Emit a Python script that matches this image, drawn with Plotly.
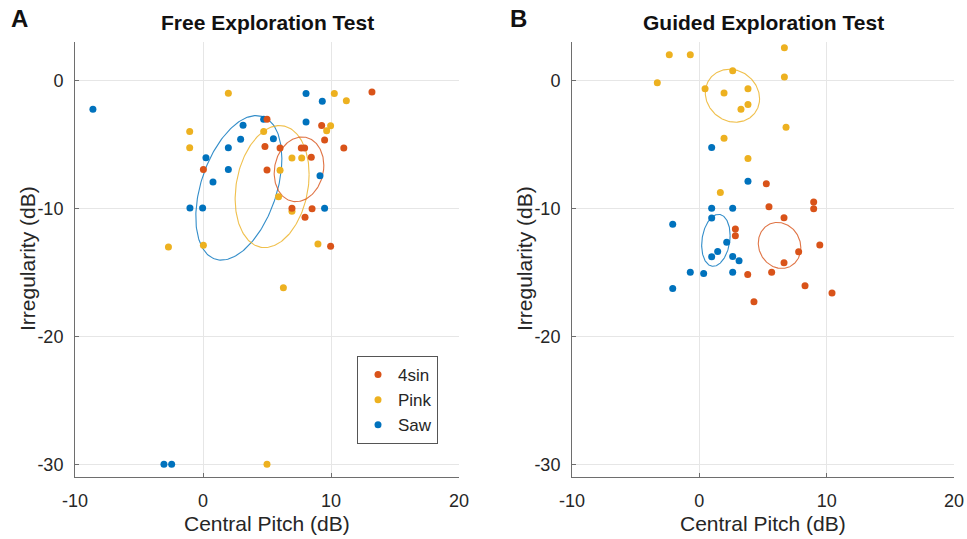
import numpy as np
import plotly.graph_objects as go

# ---- data -----------------------------------------------------------------
series_names = ["4sin", "Pink", "Saw"]
series_colors = {"4sin": "#D95319", "Pink": "#EDB120", "Saw": "#0072BD"}

# Free exploration test (panel A)
free_4sin_x = [0.03, 5.0, 4.84, 5.0, 13.2, 9.27, 9.5, 11.0, 6.02, 7.68, 7.94, 8.46, 6.95, 7.97, 8.52, 9.97]
free_4sin_y = [-6.97, -3.03, -5.16, -7.0, -0.91, -3.52, -4.66, -5.29, -5.29, -5.29, -5.29, -6.0, -10.0, -10.7, -10.03, -12.97]
free_pink_x = [1.98, -1.04, -1.04, 4.74, -2.7, 0.03, 10.26, 11.2, 9.97, 9.66, 6.95, 7.71, 6.02, 5.9, 6.95, 8.98, 6.28, 5.0]
free_pink_y = [-1.0, -4.0, -5.26, -4.0, -13.03, -12.88, -1.02, -1.59, -3.54, -3.93, -6.07, -6.07, -7.03, -9.1, -10.23, -12.79, -16.2, -30.0]
free_saw_x = [-8.6, 0.23, 0.78, 1.98, 1.98, 3.13, 2.94, 4.74, -1.02, -0.03, 8.05, 9.32, 8.05, 5.5, 9.14, 9.5, -3.05, -2.45]
free_saw_y = [-2.25, -6.04, -7.95, -5.26, -6.97, -3.5, -4.6, -3.03, -9.97, -9.97, -1.02, -1.64, -3.26, -4.56, -7.45, -10.0, -30.0, -30.0]

# Guided exploration test (panel B)
guided_4sin_x = [5.26, 5.47, 8.98, 8.98, 6.65, 2.83, 2.83, 7.8, 9.46, 6.65, 5.68, 3.8, 8.3, 10.42, 4.29]
guided_4sin_y = [-8.07, -9.87, -9.5, -10.03, -10.73, -11.62, -12.14, -13.4, -12.87, -14.26, -15.0, -15.17, -16.06, -16.61, -17.31]
guided_pink_x = [-2.36, -0.71, 6.68, 2.62, 6.68, -3.3, 0.45, 1.94, 3.82, 3.82, 3.27, 6.81, 1.94, 3.82, 1.65]
guided_pink_y = [2.0, 2.0, 2.56, 0.76, 0.26, -0.18, -0.65, -0.99, -0.65, -1.88, -2.25, -3.66, -4.52, -6.11, -8.77]
guided_saw_x = [0.97, 3.82, 0.97, 2.62, -2.09, 0.97, 2.15, 1.44, 0.97, 2.62, 3.12, 2.62, 0.34, -0.71, -2.09]
guided_saw_y = [-5.25, -7.88, -10.0, -10.0, -11.25, -10.76, -12.66, -13.37, -13.79, -13.76, -14.1, -14.99, -15.09, -14.99, -16.27]

# Ellipse summaries: centre and shape matrix [[a, b], [b, c]]
free_ellipse_center = {"4sin": (7.5, -6.95), "Pink": (5.4, -8.3), "Saw": (2.8, -8.4)}
free_ellipse_shape = {"4sin": (3.76, 0.6, 6.4), "Pink": (8.35, 2.76, 22.75), "Saw": (11.3, 7.7, 31.9)}
guided_ellipse_center = {"4sin": (6.3, -12.9), "Pink": (2.6, -1.2), "Saw": (1.3, -12.5)}
guided_ellipse_shape = {"4sin": (2.79, -0.3, 3.24), "Pink": (4.54, -0.5, 4.28), "Saw": (1.25, 0.43, 4.12)}

x_ticks = [-10, 0, 10, 20]
y_ticks = [-30, -20, -10, 0]
x_ticklabels = ["-10", "0", "10", "20"]
y_ticklabels = ["-30", "-20", "-10", "0"]
x_range = [-10, 20]
y_range = [-31, 3]

panels = [
    {
        "xaxis": "x", "yaxis": "y",
        "points": {
            "4sin": (free_4sin_x, free_4sin_y),
            "Pink": (free_pink_x, free_pink_y),
            "Saw": (free_saw_x, free_saw_y),
        },
        "centers": free_ellipse_center, "shapes": free_ellipse_shape,
        "legend": True,
    },
    {
        "xaxis": "x2", "yaxis": "y2",
        "points": {
            "4sin": (guided_4sin_x, guided_4sin_y),
            "Pink": (guided_pink_x, guided_pink_y),
            "Saw": (guided_saw_x, guided_saw_y),
        },
        "centers": guided_ellipse_center, "shapes": guided_ellipse_shape,
        "legend": False,
    },
]


def ellipse_xy(center, shape, n=200):
    a, b, c = shape
    L = np.linalg.cholesky(np.array([[a, b], [b, c]]))
    t = np.linspace(0, 2 * np.pi, n)
    pts = L @ np.vstack([np.cos(t), np.sin(t)])
    return pts[0] + center[0], pts[1] + center[1]


fig = go.Figure()
rank = {"4sin": 1, "Pink": 2, "Saw": 3}
for panel in panels:
    for name in ["Saw", "Pink", "4sin"]:
        ex, ey = ellipse_xy(panel["centers"][name], panel["shapes"][name])
        fig.add_trace(go.Scatter(
            x=ex, y=ey, mode="lines", xaxis=panel["xaxis"], yaxis=panel["yaxis"],
            line=dict(color=series_colors[name], width=1.1), opacity=0.8,
            showlegend=False, hoverinfo="skip"))
    for name in ["Saw", "Pink", "4sin"]:
        px, py = panel["points"][name]
        fig.add_trace(go.Scatter(
            x=px, y=py, mode="markers", name=name,
            xaxis=panel["xaxis"], yaxis=panel["yaxis"],
            marker=dict(color=series_colors[name], size=7, line=dict(width=0)),
            showlegend=panel["legend"], legendrank=rank[name]))

FONT = "Liberation Sans, Arial, sans-serif"
axis_color = "#6e6e6e"
tick_font = dict(family=FONT, size=18, color="#262626")
common_x = dict(range=x_range, tickvals=x_ticks, ticktext=x_ticklabels,
                showgrid=True, gridcolor="#e6e6e6",
                zeroline=False, showline=True, linecolor=axis_color, linewidth=1,
                ticks="inside", ticklen=4, tickcolor=axis_color, tickfont=tick_font,
                ticklabelstandoff=7, fixedrange=True, automargin=False)
common_y = dict(range=y_range, tickvals=y_ticks, ticktext=y_ticklabels,
                showgrid=True, gridcolor="#e6e6e6",
                zeroline=False, showline=True, linecolor=axis_color, linewidth=1,
                ticks="inside", ticklen=4, tickcolor=axis_color, tickfont=tick_font,
                ticklabelstandoff=7, fixedrange=True, automargin=False)

W, H = 967, 539
y_dom = [1 - 477 / H, 1 - 42 / H]
fig.update_layout(
    width=W, height=H, margin=dict(l=0, r=0, t=0, b=0),
    paper_bgcolor="white", plot_bgcolor="white",
    xaxis=dict(domain=[75 / W, 459 / W], anchor="y", **common_x),
    yaxis=dict(domain=y_dom, anchor="x", **common_y),
    xaxis2=dict(domain=[572 / W, 954 / W], anchor="y2", **common_x),
    yaxis2=dict(domain=y_dom, anchor="x2", **common_y),
    legend=dict(x=357 / W, y=1 - 356 / H, xanchor="left", yanchor="top",
                bgcolor="white", bordercolor="#555555", borderwidth=1,
                font=dict(family=FONT, size=17, color="#262626"),
                itemwidth=30, tracegroupgap=0),
    showlegend=True,
)

label_font = dict(family=FONT, size=21, color="#262626")
title_font = dict(family=FONT, size=21, color="#111111")
letter_font = dict(family=FONT, size=24, color="#111111")
annotations = [
    dict(text="<b>Free Exploration Test</b>", x=267 / W, y=1 - 23 / H, font=title_font),
    dict(text="<b>Guided Exploration Test</b>", x=763 / W, y=1 - 23 / H, font=title_font),
    dict(text="<b>A</b>", x=19 / W, y=1 - 19 / H, font=letter_font),
    dict(text="<b>B</b>", x=518 / W, y=1 - 19 / H, font=letter_font),
    dict(text="Central Pitch (dB)", x=267 / W, y=1 - 523 / H, font=label_font),
    dict(text="Central Pitch (dB)", x=763 / W, y=1 - 523 / H, font=label_font),
    dict(text="Irregularity (dB)", x=27 / W, y=1 - 259 / H, font=label_font, textangle=-90),
    dict(text="Irregularity (dB)", x=524 / W, y=1 - 259 / H, font=label_font, textangle=-90),
]
for a in annotations:
    a.update(xref="paper", yref="paper", showarrow=False, xanchor="center", yanchor="middle")
fig.update_layout(annotations=annotations)

fig.write_html("out.html")
